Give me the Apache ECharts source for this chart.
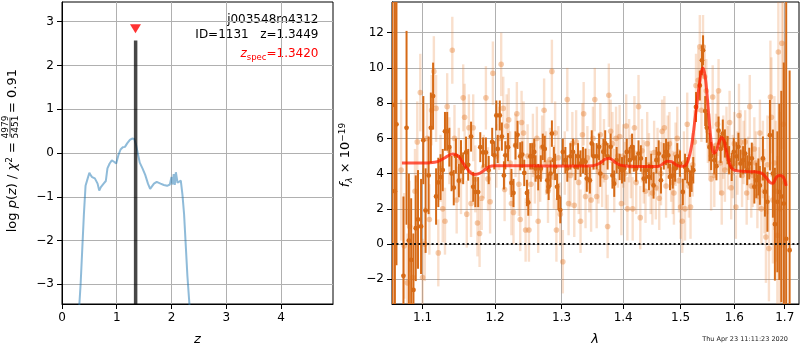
<!DOCTYPE html>
<html>
<head>
<meta charset="utf-8">
<script src="https://cdn.jsdelivr.net/npm/echarts@6/dist/echarts.min.js"></script>
<style>
  html, body { margin: 0; padding: 0; background: #fff; }
  #chart { width: 800px; height: 350px; }
</style>
</head>
<body>
<div id="chart"></div>
<script>
// ---- redshift probability panel ----
const pzZ = [0.30, 0.34, 0.37, 0.40, 0.43, 0.46, 0.50, 0.52, 0.55, 0.60, 0.65, 0.68, 0.71, 0.76, 0.80, 0.83,
  0.87, 0.91, 0.95, 0.99, 1.03, 1.07, 1.11, 1.15, 1.19, 1.24, 1.28, 1.32, 1.35, 1.38, 1.42, 1.47, 1.52,
  1.57, 1.61, 1.64, 1.68, 1.73, 1.80, 1.86, 1.92, 1.97, 2.00, 2.02, 2.04, 2.06, 2.08, 2.11, 2.14, 2.17,
  2.20, 2.23, 2.26, 2.29, 2.33, 2.36];
const pzLogP = [-3.8, -3.0, -2.2, -1.4, -0.75, -0.62, -0.45, -0.50, -0.55, -0.58, -0.70, -0.86, -0.78, -0.70,
  -0.64, -0.35, -0.24, -0.17, -0.20, -0.24, -0.05, 0.08, 0.13, 0.14, 0.22, 0.30, 0.33, 0.32, 0.20, 0.02,
  -0.22, -0.35, -0.50, -0.70, -0.82, -0.80, -0.70, -0.66, -0.70, -0.73, -0.75, -0.72, -0.55, -0.72, -0.48,
  -0.73, -0.44, -0.68, -0.65, -0.63, -0.95, -1.4, -2.1, -2.8, -3.5, -4.0];
const zBest = 1.3449;
const zSpec = 1.3420;
const zBestStemTop = 2.57;
const zSpecMarkerY = 2.84;
const objName = 'j003548m4312';
const objId = 1131;
const chi2Num = 4979;
const chi2Den = 5451;
const pzXTicks = [0, 1, 2, 3, 4];
const pzYTicks = [-3, -2, -1, 0, 1, 2, 3];

// ---- spectrum panel: [wavelength (um), flux, error] ----
const specDark = [
  [1.061, 7.9, 20], [1.064, 3.0, 20], [1.066, 6.8, 8], [1.075, -1.8, 4.5], [1.079, 6.6, 5.5], [1.082, 0.2, 3.8],
  [1.085, -0.9, 3.5], [1.088, -2.6, 3.2], [1.091, 0.9, 3.0], [1.094, 1.4, 2.8], [1.098, 1.0, 2.7],
  [1.101, 5.9, 2.5], [1.104, 1.9, 2.4], [1.108, 3.9, 2.2], [1.111, 6.6, 2.0], [1.114, 8.4, 1.9],
  [1.118, 2.7, 1.6], [1.121, 3.5, 1.4], [1.124, 3.8, 1.3], [1.127, 4.2, 1.2], [1.130, 6.4, 1.1],
  [1.133, 6.4, 1.1], [1.136, 5.5, 1.1], [1.139, 4.0, 1.0], [1.142, 3.2, 1.0], [1.145, 5.0, 1.0],
  [1.149, 3.6, 0.95], [1.152, 4.95, 0.95], [1.155, 4.3, 0.9], [1.159, 5.2, 0.9], [1.162, 4.5, 0.9],
  [1.166, 6.1, 0.85], [1.169, 3.25, 0.85], [1.172, 2.95, 0.85], [1.176, 2.95, 0.85], [1.179, 5.5, 0.85],
  [1.183, 5.2, 0.85], [1.187, 5.2, 0.85], [1.191, 4.2, 0.8], [1.196, 5.8, 0.8], [1.199, 5.04, 0.8],
  [1.202, 7.3, 0.85], [1.204, 5.4, 0.8], [1.207, 7.3, 0.85], [1.210, 6.1, 0.8], [1.213, 3.9, 0.8],
  [1.215, 5.04, 0.8], [1.219, 5.5, 0.8], [1.224, 3.47, 0.8], [1.227, 2.9, 0.8], [1.230, 5.6, 0.8],
  [1.233, 6.2, 0.8], [1.237, 4.98, 0.8], [1.240, 5.08, 0.75], [1.243, 4.04, 0.75], [1.247, 2.9, 0.75],
  [1.249, 2.36, 0.75], [1.252, 4.98, 0.75], [1.255, 4.98, 0.75], [1.258, 5.23, 0.75], [1.260, 4.29, 0.75],
  [1.264, 3.8, 0.75], [1.268, 4.29, 0.75], [1.271, 5.52, 0.75], [1.274, 5.4, 0.75], [1.278, 3.62, 0.75],
  [1.280, 3.25, 0.75], [1.283, 4.0, 0.75], [1.285, 6.27, 0.75], [1.288, 4.76, 0.75], [1.290, 4.38, 0.75],
  [1.293, 3.25, 0.75], [1.295, 2.68, 0.75], [1.298, 1.93, 0.75], [1.302, 5.23, 0.75], [1.306, 4.76, 0.75],
  [1.309, 4.29, 0.75], [1.314, 4.98, 0.75], [1.318, 5.23, 0.75], [1.322, 4.38, 0.75], [1.326, 4.98, 0.75],
  [1.330, 4.57, 0.75], [1.334, 4.76, 0.75], [1.338, 4.67, 0.75], [1.340, 3.72, 0.75], [1.345, 3.62, 0.75],
  [1.348, 5.71, 0.75], [1.351, 4.98, 0.75], [1.356, 4.98, 0.75], [1.360, 5.52, 0.75], [1.362, 4.0, 0.75],
  [1.367, 5.23, 0.75], [1.370, 5.71, 0.75], [1.374, 4.98, 0.75], [1.379, 5.52, 0.75], [1.382, 3.9, 0.75],
  [1.385, 3.43, 0.75], [1.389, 4.76, 0.75], [1.394, 4.38, 0.75], [1.398, 4.19, 0.75], [1.402, 4.29, 0.75],
  [1.406, 5.23, 0.75], [1.411, 4.76, 0.75], [1.415, 5.52, 0.75], [1.418, 4.86, 0.75], [1.422, 4.29, 0.75],
  [1.426, 5.14, 0.75], [1.430, 4.86, 0.75], [1.435, 3.71, 0.75], [1.439, 4.19, 0.75], [1.444, 3.81, 0.75],
  [1.448, 4.38, 0.75], [1.452, 3.33, 0.75], [1.457, 4.76, 0.75], [1.461, 5.14, 0.75], [1.465, 3.62, 0.75],
  [1.470, 4.98, 0.75], [1.474, 5.23, 0.75], [1.478, 5.04, 0.75], [1.481, 3.81, 0.75], [1.486, 3.9, 0.75],
  [1.490, 4.29, 0.75], [1.494, 4.98, 0.75], [1.499, 4.57, 0.75], [1.504, 2.96, 0.75], [1.508, 4.38, 0.75],
  [1.512, 4.19, 0.75], [1.517, 3.43, 0.75], [1.520, 3.71, 0.75], [1.523, 4.19, 0.75], [1.528, 7.78, 0.85],
  [1.535, 9.0, 0.85], [1.539, 10.43, 0.85], [1.541, 11.0, 0.85], [1.545, 7.55, 0.85], [1.548, 6.6, 0.85],
  [1.553, 5.5, 0.8], [1.556, 5.0, 0.8], [1.562, 4.76, 0.8], [1.566, 4.42, 0.8], [1.570, 6.44, 0.8],
  [1.574, 5.4, 0.8], [1.578, 6.27, 0.8], [1.582, 5.71, 0.8], [1.587, 5.33, 0.8], [1.590, 4.76, 0.8],
  [1.595, 4.38, 0.8], [1.599, 5.23, 0.8], [1.604, 4.98, 0.8], [1.608, 5.52, 0.8], [1.612, 4.57, 0.8],
  [1.617, 4.76, 0.8], [1.621, 5.14, 0.85], [1.625, 4.19, 0.85], [1.629, 4.57, 0.9], [1.634, 4.86, 0.9],
  [1.639, 3.25, 0.95], [1.643, 3.62, 1.0], [1.647, 3.81, 1.05], [1.650, 3.33, 1.1], [1.656, 4.86, 1.25],
  [1.660, 2.96, 1.4], [1.665, 2.4, 1.7], [1.670, 6.18, 2.0], [1.676, 4.0, 2.5], [1.680, 1.13, 3.2],
  [1.685, 2.4, 4.0], [1.689, 2.96, 5.0], [1.693, 2.7, 6.0], [1.698, 2.3, 8.0], [1.703, 0.3, 15],
  [1.710, -0.35, 10.2]
];

const specLight = [
  [1.072, 4.2, 4.0], [1.076, -0.1, 3.0], [1.080, -2.2, 2.8], [1.083, 1.0, 2.6], [1.087, -1.9, 2.5],
  [1.090, 3.0, 2.4], [1.093, 5.8, 2.3], [1.097, 8.6, 2.2], [1.100, -1.9, 2.2], [1.103, 0.0, 2.1],
  [1.106, 6.0, 2.0], [1.109, 1.4, 2.0], [1.112, 7.6, 2.0], [1.115, 9.8, 2.0], [1.118, 7.7, 1.9],
  [1.121, -0.5, 1.9], [1.124, 4.3, 1.9], [1.127, 2.0, 1.9], [1.130, 1.3, 1.9], [1.133, 7.8, 1.9],
  [1.136, 5.3, 1.9], [1.140, 11.0, 1.9], [1.143, 6.0, 1.9], [1.146, 2.5, 1.9], [1.149, 4.7, 1.9],
  [1.152, 3.6, 1.9], [1.155, 8.3, 1.9], [1.157, 7.2, 1.9], [1.160, 1.7, 1.9], [1.163, 6.6, 1.9],
  [1.166, 2.3, 1.9], [1.169, 6.6, 1.9], [1.172, 3.7, 1.9], [1.175, 1.2, 1.9], [1.178, 0.6, 1.9],
  [1.181, 2.6, 1.8], [1.184, 4.4, 1.8], [1.187, 8.3, 1.8], [1.190, 3.7, 1.8], [1.193, 2.4, 1.8],
  [1.197, 9.7, 1.8], [1.202, 5.0, 1.8], [1.206, 6.0, 1.8], [1.209, 10.2, 1.8], [1.212, 7.7, 1.8],
  [1.214, 3.1, 1.8], [1.217, 6.7, 1.8], [1.220, 7.05, 1.8], [1.222, 4.6, 1.8], [1.224, 2.3, 1.8],
  [1.227, 1.8, 1.8], [1.230, 5.6, 1.8], [1.232, 7.4, 1.8], [1.235, 3.4, 1.8], [1.237, 1.4, 1.8],
  [1.239, 6.9, 1.8], [1.242, 6.3, 1.8], [1.245, 0.8, 1.8], [1.248, 5.0, 1.8], [1.250, 0.8, 1.8],
  [1.253, 3.4, 1.8], [1.256, 5.6, 1.8], [1.259, 4.1, 1.8], [1.262, 6.0, 1.8], [1.264, 1.3, 1.8],
  [1.267, 4.2, 1.8], [1.270, 5.5, 1.8], [1.273, 7.6, 1.8], [1.276, 4.6, 1.8], [1.279, 3.0, 1.8],
  [1.282, 4.8, 1.8], [1.285, 9.8, 1.8], [1.288, 3.8, 1.8], [1.290, 6.3, 1.8], [1.292, 0.8, 1.8],
  [1.295, 4.9, 1.8], [1.298, 1.7, 1.8], [1.302, -1.0, 1.8], [1.305, 4.6, 1.8], [1.309, 8.2, 1.8],
  [1.311, 2.3, 1.8], [1.314, 3.9, 1.8], [1.317, 5.7, 1.8], [1.320, 2.2, 1.8], [1.323, 5.8, 1.8],
  [1.327, 3.5, 1.8], [1.330, 1.3, 1.8], [1.333, 6.2, 1.8], [1.335, 7.4, 1.8], [1.338, 2.7, 1.8],
  [1.341, 4.9, 1.8], [1.344, 3.6, 1.8], [1.347, 2.5, 1.8], [1.350, 6.0, 1.8], [1.353, 8.2, 1.8],
  [1.356, 2.7, 1.8], [1.359, 4.1, 1.8], [1.362, 6.2, 1.8], [1.365, 3.9, 1.8], [1.368, 5.3, 1.8],
  [1.371, 3.8, 1.8], [1.374, 1.0, 1.8], [1.376, 8.45, 1.8], [1.379, 6.4, 1.8], [1.382, 5.7, 1.8],
  [1.385, 3.6, 1.8], [1.388, 6.0, 1.8], [1.391, 5.0, 1.8], [1.394, 6.1, 1.8], [1.397, 2.3, 1.8],
  [1.400, 5.0, 1.8], [1.403, 4.0, 1.8], [1.405, 6.7, 1.8], [1.407, 2.0, 1.8], [1.410, 5.3, 1.8],
  [1.413, 4.4, 1.8], [1.416, 2.0, 1.8], [1.419, 6.6, 1.8], [1.422, 3.5, 1.8], [1.426, 7.8, 1.8],
  [1.429, 1.5, 1.8], [1.432, 5.3, 1.8], [1.435, 4.1, 1.8], [1.438, 3.0, 1.8], [1.441, 5.7, 1.8],
  [1.444, 4.5, 1.8], [1.447, 3.5, 1.8], [1.450, 2.9, 1.8], [1.453, 5.2, 1.8], [1.456, 3.2, 1.8],
  [1.459, 4.8, 1.8], [1.462, 2.6, 1.8], [1.465, 4.0, 1.8], [1.467, 6.4, 1.8], [1.471, 6.6, 1.8],
  [1.474, 3.3, 1.8], [1.477, 5.5, 1.8], [1.480, 5.7, 1.8], [1.483, 4.2, 1.8], [1.486, 3.5, 1.8],
  [1.488, 2.9, 1.8], [1.491, 5.1, 1.8], [1.494, 6.0, 1.8], [1.497, 3.6, 1.8], [1.500, 2.1, 1.8],
  [1.503, 1.3, 1.8], [1.506, 4.6, 1.8], [1.508, 2.0, 1.8], [1.512, 6.8, 1.8], [1.515, 3.3, 1.8],
  [1.518, 2.1, 1.8], [1.522, 4.5, 1.8], [1.525, 5.8, 1.8], [1.528, 9.0, 1.8], [1.532, 9.3, 1.8],
  [1.535, 11.2, 1.8], [1.538, 7.6, 1.8], [1.541, 11.2, 1.8], [1.544, 9.5, 1.8], [1.547, 8.7, 1.8],
  [1.550, 6.4, 1.8], [1.553, 5.6, 1.8], [1.556, 3.7, 1.8], [1.559, 8.35, 1.8], [1.562, 3.9, 1.8],
  [1.565, 5.6, 1.8], [1.568, 6.8, 1.8], [1.570, 8.7, 1.8], [1.573, 4.6, 1.8], [1.576, 2.9, 1.8],
  [1.579, 5.5, 1.8], [1.582, 4.2, 1.8], [1.585, 6.0, 1.8], [1.588, 4.9, 1.8], [1.591, 6.9, 1.8],
  [1.594, 3.2, 1.8], [1.597, 4.4, 1.8], [1.600, 5.7, 1.8], [1.603, 2.1, 1.8], [1.606, 4.6, 1.8],
  [1.609, 7.3, 1.8], [1.612, 5.8, 1.8], [1.615, 3.9, 1.8], [1.618, 5.2, 1.8], [1.621, 5.8, 1.8],
  [1.624, 2.9, 1.8], [1.627, 4.3, 1.8], [1.630, 7.8, 1.8], [1.633, 3.3, 1.8], [1.636, 3.9, 1.8],
  [1.639, 5.4, 1.8], [1.642, 4.6, 1.8], [1.645, 2.7, 1.8], [1.648, 3.7, 1.8], [1.650, 6.3, 1.9],
  [1.653, 2.0, 2.0], [1.656, 4.8, 2.2], [1.659, 3.0, 2.4], [1.662, 0.4, 2.6], [1.665, 4.5, 2.8],
  [1.668, -0.25, 3.0], [1.671, 8.35, 3.2], [1.673, 7.2, 3.4], [1.676, 2.5, 3.6], [1.679, 4.6, 3.8],
  [1.682, 3.0, 4.0], [1.685, 0.5, 4.5], [1.687, 10.9, 5.0], [1.690, 2.0, 5.5], [1.694, 11.4, 6.0],
  [1.697, 6.8, 7.0], [1.700, 3.5, 8.0]
];

const modelLam = [1.073, 1.09, 1.11, 1.12, 1.13, 1.14, 1.148, 1.155, 1.162, 1.17, 1.177, 1.185, 1.192,
  1.20, 1.25, 1.30, 1.35, 1.362, 1.37, 1.378, 1.386, 1.395, 1.41, 1.44, 1.46, 1.468, 1.476, 1.484, 1.492,
  1.50, 1.508, 1.515, 1.521, 1.527, 1.533, 1.538, 1.541, 1.545, 1.549, 1.553, 1.557, 1.561, 1.566, 1.571,
  1.576, 1.581, 1.587, 1.593, 1.60, 1.62, 1.64, 1.655, 1.663, 1.67, 1.676, 1.683, 1.69, 1.697, 1.703];
const modelFlux = [4.60, 4.60, 4.62, 4.68, 4.90, 5.12, 5.0, 4.6, 4.2, 3.95, 4.0, 4.2, 4.4,
  4.44, 4.44, 4.43, 4.45, 4.6, 4.82, 4.86, 4.65, 4.48, 4.42, 4.40, 4.40, 4.55, 4.70, 4.68, 4.50,
  4.42, 4.45, 4.9, 5.8, 7.3, 8.8, 9.8, 10.0, 9.5, 8.3, 6.8, 5.6, 5.15, 5.3, 5.8,
  6.05, 5.8, 5.0, 4.4, 4.2, 4.12, 4.1, 4.0, 3.75, 3.5, 3.45, 3.8, 3.9, 3.8, 3.3];

const specXRange = [1.0603, 1.7294];
const specYRange = [-3.40, 13.74];
const specXTicks = [1.1, 1.2, 1.3, 1.4, 1.5, 1.6, 1.7];
const specYTicks = [-2, 0, 2, 4, 6, 8, 10, 12];
const stamp = 'Thu Apr 23 11:11:23 2020';

// ---- drawing ----
const FONT = 'DejaVu Sans';
const GRID_COLOR = '#b0b0b0';
const DARK = 'rgb(214,106,22)';
const LIGHT_BAR = 'rgba(230,120,40,0.24)';
const LIGHT_DOT = 'rgba(230,120,40,0.38)';

const chart = echarts.init(document.getElementById('chart'), null, { renderer: 'canvas' });

function errorBarRenderer(barColor, dotColor, barWidth, radius) {
  return function (params, api) {
    const x = api.value(0), y = api.value(1), e = api.value(2);
    const top = api.coord([x, y + e]);
    const bot = api.coord([x, y - e]);
    const c = api.coord([x, y]);
    return {
      type: 'group',
      children: [
        { type: 'line', shape: { x1: top[0], y1: top[1], x2: bot[0], y2: bot[1] },
          style: { stroke: barColor, lineWidth: barWidth } },
        { type: 'circle', shape: { cx: c[0], cy: c[1], r: radius }, style: { fill: dotColor } }
      ]
    };
  };
}

function axisCommon(ticks, extra) {
  return Object.assign({
    type: 'value',
    axisLine: { show: true, onZero: false, lineStyle: { color: '#000', width: 1 } },
    axisTick: { show: true, customValues: ticks, length: 5, inside: false, lineStyle: { color: '#000', width: 1 } },
    axisLabel: { customValues: ticks, color: '#000', fontSize: 12, fontFamily: FONT, margin: 8 },
    splitLine: { show: true, lineStyle: { color: GRID_COLOR, width: 1 } },
    splitArea: { show: false }
  }, extra);
}

const lnTicks = specXTicks.map(v => Math.log(v));
const toLn = rows => rows.map(r => [Math.log(r[0]), r[1], r[2]]);
const minusFmt = v => (v < 0 ? '\u2212' + Math.abs(v) : String(v));

const richBase = { fontFamily: FONT, fontSize: 13, fill: '#000' };

const option = {
  animation: false,
  backgroundColor: '#fff',
  textStyle: { fontFamily: FONT },
  grid: [
    { left: 62, top: 2, width: 271, height: 302, show: true, borderColor: '#000', borderWidth: 1, backgroundColor: 'transparent' },
    { left: 392, top: 2, width: 407, height: 302, show: true, borderColor: '#000', borderWidth: 1, backgroundColor: 'transparent' }
  ],
  xAxis: [
    axisCommon(pzXTicks, { gridIndex: 0, min: 0, max: 4.95 }),
    axisCommon(lnTicks, {
      gridIndex: 1, min: Math.log(specXRange[0]), max: Math.log(specXRange[1]),
      axisLabel: { customValues: lnTicks, color: '#000', fontSize: 12, fontFamily: FONT, margin: 8,
        formatter: v => Math.exp(v).toFixed(1) }
    })
  ],
  yAxis: [
    axisCommon(pzYTicks, { gridIndex: 0, min: -3.45, max: 3.45,
      axisLabel: { customValues: pzYTicks, color: '#000', fontSize: 12, fontFamily: FONT, margin: 8, formatter: minusFmt } }),
    axisCommon(specYTicks, { gridIndex: 1, min: specYRange[0], max: specYRange[1],
      axisLabel: { customValues: specYTicks, color: '#000', fontSize: 12, fontFamily: FONT, margin: 8, formatter: minusFmt } })
  ],
  series: [
    {
      type: 'line', xAxisIndex: 0, yAxisIndex: 0, z: 3,
      data: pzZ.map((z, i) => [z, pzLogP[i]]),
      showSymbol: false, clip: true,
      lineStyle: { color: 'rgba(31,119,180,0.5)', width: 2 }
    },
    {
      type: 'line', xAxisIndex: 0, yAxisIndex: 0, z: 4,
      data: [[zBest, -3.45], [zBest, zBestStemTop]],
      showSymbol: false, clip: true,
      lineStyle: { color: 'rgba(0,0,0,0.72)', width: 3.5, cap: 'butt' }
    },
    {
      type: 'scatter', xAxisIndex: 0, yAxisIndex: 0, z: 5,
      data: [[zSpec, zSpecMarkerY]],
      symbol: 'triangle', symbolRotate: 180, symbolSize: [11, 9],
      itemStyle: { color: '#ff0000' }
    },
    {
      type: 'custom', xAxisIndex: 1, yAxisIndex: 1, z: 2, clip: true,
      data: toLn(specLight),
      encode: { x: 0, y: 1 },
      renderItem: errorBarRenderer(LIGHT_BAR, LIGHT_DOT, 2.4, 2.8)
    },
    {
      type: 'custom', xAxisIndex: 1, yAxisIndex: 1, z: 3, clip: true,
      data: toLn(specDark),
      encode: { x: 0, y: 1 },
      renderItem: errorBarRenderer(DARK, DARK, 2.0, 2.4)
    },
    {
      type: 'line', xAxisIndex: 1, yAxisIndex: 1, z: 4,
      data: [[Math.log(specXRange[0]), 0], [Math.log(specXRange[1]), 0]],
      showSymbol: false,
      lineStyle: { color: '#111', width: 2, type: [2, 2.4], cap: 'butt' }
    },
    {
      type: 'line', xAxisIndex: 1, yAxisIndex: 1, z: 5,
      data: modelLam.map((l, i) => [Math.log(l), modelFlux[i]]),
      showSymbol: false, smooth: 0.3, clip: true,
      lineStyle: { color: 'rgba(255,25,0,0.72)', width: 3 }
    }
  ],
  graphic: [
    { type: 'text', x: 318.5, y: 20, style: { text: objName, font: '12px "DejaVu Sans"', fill: '#000', align: 'right', verticalAlign: 'middle' } },
    { type: 'text', x: 318.5, y: 34.5, style: { text: 'ID=' + objId + '   z=' + zBest.toFixed(4), font: '12px "DejaVu Sans"', fill: '#000', align: 'right', verticalAlign: 'middle' } },
    { type: 'text', x: 318.5, y: 54, style: {
        text: '{i|z}{sub|spec}{n|=' + zSpec.toFixed(4) + '}', align: 'right', verticalAlign: 'middle',
        rich: {
          i: { fontFamily: FONT, fontSize: 12, fontStyle: 'italic', fill: '#ff0000', lineHeight: 16 },
          sub: { fontFamily: FONT, fontSize: 8.5, fill: '#ff0000', verticalAlign: 'bottom', lineHeight: 10 },
          n: { fontFamily: FONT, fontSize: 12, fill: '#ff0000', lineHeight: 16 }
        } } },
    // y label of the p(z) panel, written bottom to top
    { type: 'group', x: 13, y: 155, rotation: Math.PI / 2, children: [
      { type: 'text', x: 13, y: 0, style: {
          text: '{n|log }{i|p}{n|(}{i|z}{n|) / }{i|\u03c7}{sup|2}{n| =}', align: 'right', verticalAlign: 'middle',
          rich: {
            n: Object.assign({}, richBase, { lineHeight: 16 }),
            i: Object.assign({}, richBase, { fontStyle: 'italic', lineHeight: 16 }),
            sup: { fontFamily: FONT, fontSize: 9, fill: '#000', verticalAlign: 'top', lineHeight: 9 }
          } } },
      { type: 'text', x: 28, y: -7.6, style: { text: String(chi2Num), font: '9px "DejaVu Sans"', fill: '#000', align: 'center', verticalAlign: 'middle' } },
      { type: 'line', shape: { x1: 18.5, y1: -3, x2: 37.5, y2: -3 }, style: { stroke: '#000', lineWidth: 0.8 } },
      { type: 'text', x: 28, y: 2.2, style: { text: String(chi2Den), font: '9px "DejaVu Sans"', fill: '#000', align: 'center', verticalAlign: 'middle' } },
      { type: 'text', x: 42, y: 0, style: { text: '= ' + (chi2Num / chi2Den).toFixed(2), font: '13px "DejaVu Sans"', fill: '#000', align: 'left', verticalAlign: 'middle' } }
    ] },
    // y label of the spectrum panel
    { type: 'text', x: 346, y: 155, rotation: Math.PI / 2, style: {
        text: '{i|f}{sub|\u03bb}{n| \u00d7 10}{sup|\u221219}', align: 'center', verticalAlign: 'middle',
        rich: {
          i: Object.assign({}, richBase, { fontStyle: 'italic', lineHeight: 16 }),
          n: Object.assign({}, richBase, { lineHeight: 16 }),
          sub: { fontFamily: FONT, fontSize: 9, fontStyle: 'italic', fill: '#000', verticalAlign: 'bottom', lineHeight: 9 },
          sup: { fontFamily: FONT, fontSize: 9, fill: '#000', verticalAlign: 'top', lineHeight: 9 }
        } } },
    // x axis names
    { type: 'text', x: 197.5, y: 340, style: { text: 'z', font: 'italic 13px "DejaVu Sans"', fill: '#000', align: 'center', verticalAlign: 'middle' } },
    { type: 'text', x: 595, y: 340, style: { text: '\u03bb', font: 'italic 13px "DejaVu Sans"', fill: '#000', align: 'center', verticalAlign: 'middle' } },
    { type: 'text', x: 788, y: 339.5, style: { text: stamp, font: '6.5px "DejaVu Sans"', fill: '#222', align: 'right', verticalAlign: 'middle' } }
  ]
};

chart.setOption(option);
</script>
</body>
</html>
